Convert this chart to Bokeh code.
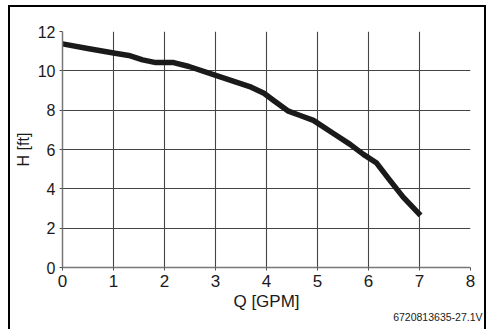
from bokeh.plotting import figure
from bokeh.models import Range1d, FixedTicker, Title
from bokeh.embed import file_html
from bokeh.resources import INLINE

# Pump curve data
flow_gpm = [0, 0.52, 1.03, 1.30, 1.57, 1.83, 2.18, 2.48, 3.02, 3.70, 3.95, 4.14,
            4.43, 4.66, 4.92, 5.32, 5.64, 5.90, 6.16, 6.42, 6.68, 7.02]
head_ft = [11.37, 11.12, 10.89, 10.78, 10.56, 10.42, 10.42, 10.22, 9.76, 9.17, 8.86, 8.49,
           7.95, 7.73, 7.48, 6.80, 6.26, 5.75, 5.31, 4.43, 3.58, 2.65]

x_ticks = [0, 1, 2, 3, 4, 5, 6, 7, 8]
y_ticks = [0, 2, 4, 6, 8, 10, 12]
x_label = "Q [GPM]"
y_label = "H [ft]"
footnote = "6720813635-27.1V"

FONT = "Liberation Sans"
TXT = "#1a1a1a"

p = figure(width=478, height=324, output_backend="svg", toolbar_location=None,
           x_range=Range1d(0, 8), y_range=Range1d(0, 12),
           min_border_left=52, min_border_right=18, min_border_top=24, min_border_bottom=64)
p.styles = {"border-top": "2px solid black", "border-left": "2px solid black",
            "border-right": "2px solid black", "margin-top": "5px", "margin-left": "8px"}
p.outline_line_color = None
p.background_fill_color = "white"
p.border_fill_color = "white"

p.line(flow_gpm, head_ft, line_width=5.5, line_color="#1a1a1a", line_join="round")

for ax, ticks in ((p.xaxis, x_ticks), (p.yaxis, y_ticks)):
    ax.ticker = FixedTicker(ticks=ticks)
    ax.axis_line_color = "#777777"
    ax.axis_line_width = 1.5
    ax.major_tick_line_color = "#555555"
    ax.major_tick_in = 0
    ax.major_tick_out = 3
    ax.minor_tick_line_color = None
    ax.major_label_text_font = FONT
    ax.major_label_text_color = TXT
    ax.axis_label_text_font = FONT
    ax.axis_label_text_color = TXT
    ax.axis_label_text_font_style = "normal"

p.xaxis.major_label_text_font_size = "17px"
p.yaxis.major_label_text_font_size = "16px"
p.xaxis.major_label_standoff = 4
p.yaxis.major_label_standoff = 4
p.xaxis.axis_label = x_label
p.yaxis.axis_label = y_label
p.xaxis.axis_label_text_font_size = "17px"
p.yaxis.axis_label_text_font_size = "16px"
p.xaxis.axis_label_standoff = 2
p.yaxis.axis_label_standoff = 3

p.xgrid.ticker = FixedTicker(ticks=x_ticks)
p.ygrid.ticker = FixedTicker(ticks=y_ticks)
for g in (p.xgrid, p.ygrid):
    g.grid_line_color = "#444444"
    g.grid_line_width = 1.1
    g.grid_line_alpha = 1.0

p.add_layout(Title(text=footnote, align="right", offset=-12, standoff=-19,
                   text_font=FONT, text_font_size="10.5px", text_font_style="normal",
                   text_color=TXT), "below")

open("out.html", "w").write(file_html(p, INLINE))
